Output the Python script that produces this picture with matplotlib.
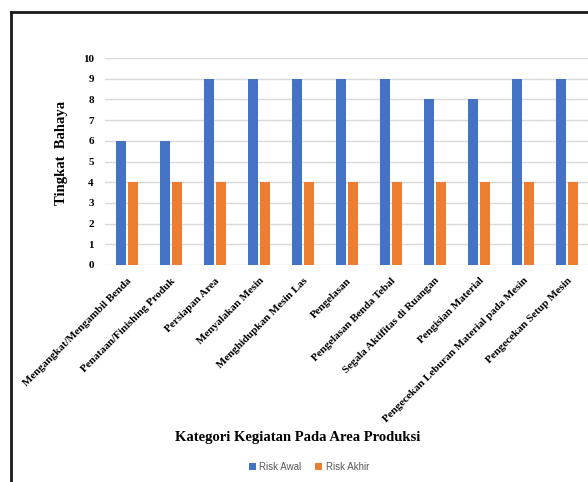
import numpy as np
import matplotlib
matplotlib.use('Agg')
import matplotlib.pyplot as plt
from matplotlib.lines import Line2D

categories = ['Mengangkat/Mengambil Benda', 'Penataan/Finishing Produk', 'Persiapan Area',
              'Menyalakan Mesin', 'Menghidupkan Mesin Las', 'Pengelasan',
              'Pengelasan Benda Tebal', 'Segala Aktifitas di Ruangan', 'Pengisian Material',
              'Pengecekan Leburan Material pada Mesin', 'Pengecekan Setup Mesin']
risk_awal = [6, 6, 9, 9, 9, 9, 9, 8, 8, 9, 9]
risk_akhir = [4, 4, 4, 4, 4, 4, 4, 4, 4, 4, 4]
yticks = list(range(0, 11))

W, H = 588, 482
fig = plt.figure(figsize=(W / 100, H / 100), dpi=100)
ax = fig.add_axes([105 / W, 1 - 265 / H, 484 / W, 207 / H])

x = np.arange(len(categories))
bw = 0.235
ax.bar(x - 0.14, risk_awal, bw, color='#4472C4', label='Risk Awal', zorder=3)
ax.bar(x + 0.14, risk_akhir, bw, color='#ED7D31', label='Risk Akhir', zorder=3)

ax.set_xlim(-0.5, len(categories) - 0.5)
ax.set_ylim(0, 10)
ax.set_yticks(yticks)
ax.yaxis.grid(True, color='#D9D9D9', linewidth=1, zorder=0)
for s in ax.spines.values():
    s.set_visible(False)
ax.tick_params(length=0)
ax.tick_params(axis='y', pad=8)

serif = {'family': 'Liberation Serif', 'weight': 'bold'}
for lab in ax.get_yticklabels():
    lab.set_fontproperties(serif)
    lab.set_fontsize(8)
ax.set_xticks(x)
ax.set_xticklabels(categories, rotation=45, ha='right', rotation_mode='anchor',
                   fontsize=7.9, **serif)
ax.tick_params(axis='x', pad=8)

fig.text(61 / W, 1 - 153 / H, 'Tingkat  Bahaya', rotation=90, ha='center', va='center',
         fontsize=10.5, **serif)
fig.text(298 / W, 1 - 437 / H, 'Kategori Kegiatan Pada Area Produksi', ha='center',
         va='center', fontsize=10.5, **serif)

fig.legend(loc='center', bbox_to_anchor=(309 / W, 1 - 467 / H), ncol=2, frameon=False,
           prop={'family': 'Liberation Sans', 'size': 7}, labelcolor='#595959',
           handlelength=0.7, handleheight=0.7, handletextpad=0.4, columnspacing=1.4)

# border of the chart area (cropped on right and bottom)
fig.add_artist(Line2D([10.5 / W, 10.5 / W], [0, 1 - 11.5 / H], color='#1a1a1a', linewidth=2))
fig.add_artist(Line2D([10.5 / W, 1], [1 - 11.5 / H, 1 - 11.5 / H], color='#1a1a1a', linewidth=2))

fig.savefig('out.png', dpi=100)
